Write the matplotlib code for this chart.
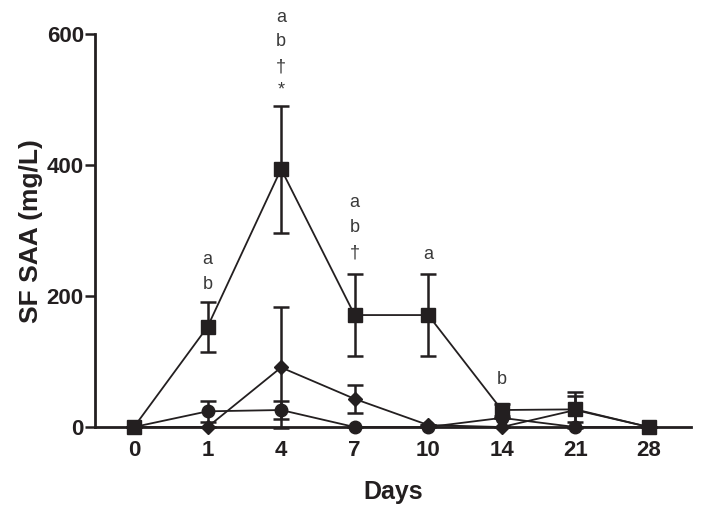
import matplotlib
matplotlib.use("Agg")
import matplotlib.pyplot as plt

# dados (SF SAA, mg/L)
dias = ["0", "1", "4", "7", "10", "14", "21", "28"]
quad_media = [0, 153, 394, 171, 171, 26, 27, 0]
quad_ep = [0, 38, 97, 63, 63, 9, 20, 0]
losango_media = [0, 0, 91, 43, 3, 0, 26, 0]
losango_ep = [0, 0, 92, 21, 0, 0, 27, 0]
circ_media = [0, 24, 26, 0, 0, 14, 0, 0]
circ_ep = [0, 16, 14, 0, 0, 0, 0, 0]

# marcas de significancia: (indice do dia, texto, y)
marcas_dia = [1, 1, 2, 2, 2, 2, 3, 3, 3, 4, 5]
marcas_txt = ["a", "b", "a", "b", "\u2020", "*", "a", "b", "\u2020", "a", "b"]
marcas_y = [256, 217, 626, 588, 550, 514, 343, 304, 266, 264, 72]

plt.rcParams["font.family"] = ["Liberation Sans", "DejaVu Sans"]
cor = "#231f20"

fig = plt.figure(figsize=(7.01, 5.17), dpi=100)
ax = fig.add_axes([0.1355, 0.174, 0.85, 0.760])
x = list(range(len(dias)))

kw = dict(color=cor, lw=1.3, capsize=6, elinewidth=1.8, capthick=1.8, clip_on=False)
ax.errorbar(x, circ_media, yerr=circ_ep, marker="o", ms=9, **kw)
ax.errorbar(x, losango_media, yerr=losango_ep, marker="D", ms=7, **kw)
ax.errorbar(x, quad_media, yerr=quad_ep, marker="s", ms=10, **kw)

for i, t, y in zip(marcas_dia, marcas_txt, marcas_y):
    ax.text(i, y, t, ha="center", va="center", fontsize=13, color="#3a3a3a",
            clip_on=False)

ax.set_xlim(-0.53, 7.57)
ax.set_ylim(0, 600)
ax.set_yticks([0, 200, 400, 600])
ax.set_xticks(x)
ax.set_xticklabels(dias)
for s in ["top", "right"]:
    ax.spines[s].set_visible(False)
for s in ["left", "bottom"]:
    ax.spines[s].set_linewidth(2)
    ax.spines[s].set_color(cor)
ax.tick_params(axis="y", length=7, width=1.8, color=cor, labelsize=16, pad=1)
ax.tick_params(axis="x", length=0, labelsize=16, pad=9)
for lab in ax.get_xticklabels() + ax.get_yticklabels():
    lab.set_fontweight("bold")
    lab.set_color(cor)
ax.set_xlabel("Days", fontsize=18, fontweight="bold", color=cor, labelpad=14)
ax.set_ylabel("SF SAA (mg/L)", fontsize=19, fontweight="bold", color=cor, labelpad=3)

fig.savefig("out.png", dpi=100)
